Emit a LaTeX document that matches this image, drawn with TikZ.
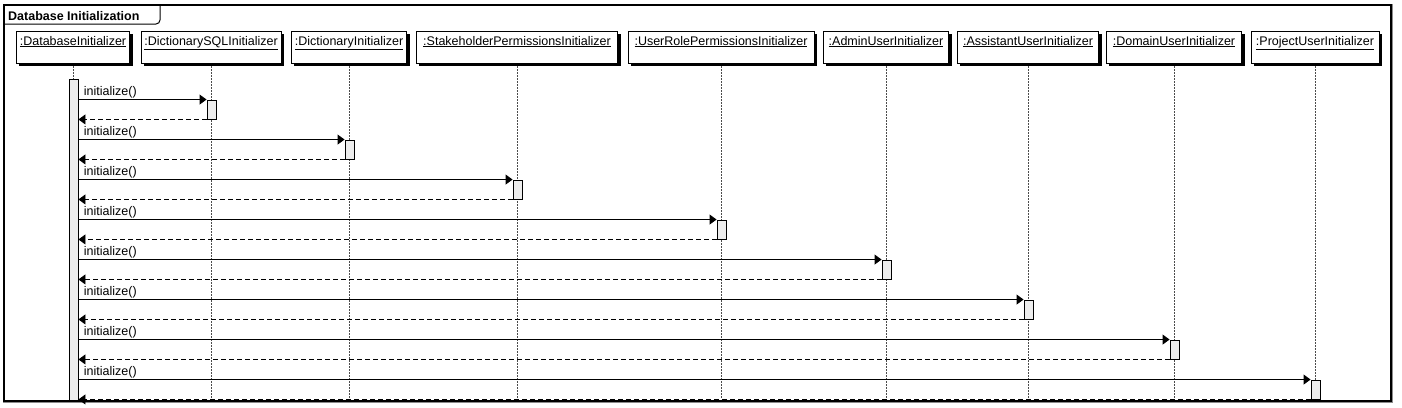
\documentclass[tikz,border=0pt]{standalone}
\usepackage{fontspec}
\setmainfont{Liberation Sans}
\usetikzlibrary{arrows.meta}
\definecolor{actgray}{rgb}{0.93, 0.93, 0.93}
\definecolor{framegray}{rgb}{0.55, 0.55, 0.55}

\begin{document}
\begin{tikzpicture}[x=1pt, y=-1pt,
					every node/.style = {font=\fontsize{12.5}{14}\selectfont},
					head/.style = {draw, fill=white, line width=0.9pt, minimum height=32pt,
						inner ysep=3pt, text height=11pt, text depth=15pt},
					act/.style = {draw, fill=actgray, line width=0.9pt, inner sep=0pt,
						minimum width=9pt, minimum height=19pt},
					lifeline/.style = {draw=black!70, line width=0.6pt, dash pattern=on 2pt off 1pt},
					call/.style = {line width=0.9pt, -{Triangle[length=7pt, width=10pt]}},
					answer/.style = {line width=0.9pt, dash pattern=on 5pt off 3pt,
						-{Triangle[length=7pt, width=10pt]}},
					msg/.style = {anchor=base west, inner sep=0pt, xshift=5pt, yshift=4pt}]
					\useasboundingbox (0,0) rectangle (1402,407);
					% frame
					\draw[framegray, line width=1pt] (3,4) rectangle (1392,402);
					\draw[line width=1.2pt] (4,5) rectangle (1391,401);
					\node[anchor=base west, inner sep=0pt, font=\fontsize{12.5}{14}\selectfont\bfseries]
						(title) at (8,20) {Database Initialization};
					\draw[line width=1pt, rounded corners=4pt] (4,24) -- (160,24) -- (160,5);
					% lifeline heads
					\node[head, minimum width=113pt] (dbinit) at (73,47) {\underline{:DatabaseInitializer}};
					\node[head, minimum width=136pt] (dictsql) at (211,47) {\underline{:DictionarySQLInitializer}};
					\node[head, minimum width=112pt] (dict) at (349,47) {\underline{:DictionaryInitializer}};
					\node[head, minimum width=201pt] (stake) at (517,47) {\underline{:StakeholderPermissionsInitializer}};
					\node[head, minimum width=186pt] (userrole) at (721,47) {\underline{:UserRolePermissionsInitializer}};
					\node[head, minimum width=125pt] (admin) at (886,47) {\underline{:AdminUserInitializer}};
					\node[head, minimum width=141pt] (assistant) at (1028,47) {\underline{:AssistantUserInitializer}};
					\node[head, minimum width=135pt] (domain) at (1174,47) {\underline{:DomainUserInitializer}};
					\node[head, minimum width=128pt] (project) at (1315,47) {\underline{:ProjectUserInitializer}};
					\coordinate (bottom) at (0,399);
					\foreach \t in {dbinit,dictsql,dict,stake,userrole,admin,assistant,domain,project} {
						% shadow of the head box
						\fill ([xshift=3pt]\t.south west) rectangle ([xshift=3pt, yshift=-3pt]\t.south east);
						\fill ([yshift=-3pt]\t.north east) rectangle ([xshift=3pt, yshift=-3pt]\t.south east);
						\draw[lifeline] ([yshift=-3pt]\t.south) -- (\t.south |- bottom);
					}
					% caller activation
					\node[act, minimum height=321pt, xshift=0.5pt] (srcact) at (73,239.5) {};
					% calls and returns
					\foreach \t [count=\i] in {dictsql,dict,stake,userrole,admin,assistant,domain,project} {
						\pgfmathsetmacro{\yc}{69.5+40*\i}
						\coordinate (row\i) at (0,\yc);
						\node[act, xshift=0.5pt] (act\i) at (\t |- row\i) {};
						\draw[call] (srcact.east |- act\i.north west) node[msg] {initialize()} -- (act\i.north west);
						\draw[answer] (act\i.south west) -- (srcact.east |- act\i.south west);
					}
				\end{tikzpicture}
\end{document}
